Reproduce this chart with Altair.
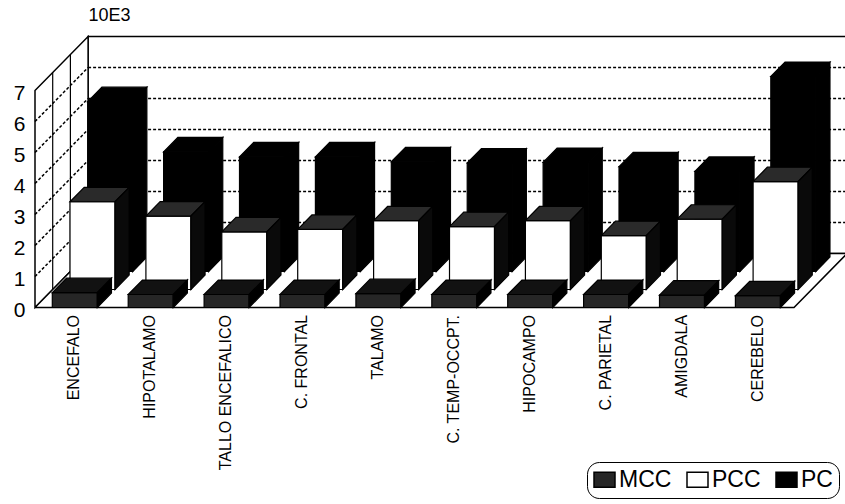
import altair as alt
import pandas as pd

# ---- data (values in thousands, "10E3") ----
categories = ["ENCEFALO", "HIPOTALAMO", "TALLO ENCEFALICO", "C. FRONTAL", "TALAMO",
              "C. TEMP-OCCPT.", "HIPOCAMPO", "C. PARIETAL", "AMIGDALA", "CEREBELO"]
series = ["MCC", "PCC", "PC"]
mcc_values = [0.48, 0.42, 0.42, 0.42, 0.45, 0.42, 0.42, 0.42, 0.40, 0.38]
pcc_values = [2.83, 2.37, 1.86, 1.94, 2.22, 2.03, 2.22, 1.74, 2.27, 3.48]
pc_values = [5.48, 3.86, 3.70, 3.70, 3.54, 3.50, 3.52, 3.38, 3.23, 6.29]
y_ticks = [0, 1, 2, 3, 4, 5, 6, 7]

# ---- styling ----
FONT = "Liberation Sans"
front_colors = ["#262626", "#ffffff", "#000000"]
top_colors = ["#121212", "#2a2a2a", "#000000"]
side_colors = ["#000000", "#0a0a0a", "#000000"]

# ---- oblique projection of the 3-D box ----
PX_PER_CAT = 75.9      # pixels per category slot
PX_PER_UNIT = 31.0     # pixels per 1 unit on the value axis
ZERO_PX = 307.5        # pixel row of value 0 on the front plane
ROW_DX = 17.7 / PX_PER_CAT   # one depth row, in category units
ROW_DY = 18.0 / PX_PER_UNIT  # one depth row, in value units
N_ROWS = len(series)
BAR_X0 = 0.228
BAR_W = 0.593
BAR_DEPTH = 0.8
WALL_TOP = y_ticks[-1]
PLOT_W, PLOT_H, PAD_L = 810, 504, 35
N_CAT = len(categories)

XMAX = PLOT_W / PX_PER_CAT
XS = alt.Scale(domain=[0, XMAX], nice=False, zero=False)
YS = alt.Scale(domain=[(ZERO_PX - PLOT_H) / PX_PER_UNIT, ZERO_PX / PX_PER_UNIT],
               nice=False, zero=False)

Y_AXIS = alt.Axis(values=y_ticks, ticks=False, domain=False, grid=False,
                  labelFontSize=21, labelFont=FONT, labelColor="black", labelPadding=10,
                  labelOffset=3,
                  title="10E3", titleAngle=0, titleX=53, titleY=15, titleAlign="left",
                  titleBaseline="middle", titleFontSize=18, titleFont=FONT,
                  titleFontWeight="normal", titleColor="black")


def X(field="x"):
    return alt.X(f"{field}:Q", scale=XS, axis=None, stack=None)


def Y(field="y"):
    return alt.Y(f"{field}:Q", scale=YS, axis=Y_AXIS, stack=None)


# wide rectangular swatch, in the unit box [-1, 1]
SWATCH = "M-1,-0.72L1,-0.72L1,0.72L-1,0.72Z"
LEGEND = alt.Legend(orient="none", legendX=552, legendY=462, direction="horizontal",
                    title=None, symbolType=SWATCH, symbolSize=441,
                    symbolStrokeColor="black", symbolStrokeWidth=1.5,
                    labelFontSize=23, labelFont=FONT, labelColor="black",
                    columnPadding=12, labelOffset=3, padding=6, cornerRadius=12,
                    strokeColor="black", fillColor="white")

# ---- bar faces ----
values_by_series = [mcc_values, pcc_values, pc_values]
front_rows, top_rows, side_rows = [], [], []
ddx, ddy = BAR_DEPTH * ROW_DX, BAR_DEPTH * ROW_DY
for r, (name, vals) in enumerate(zip(series, values_by_series)):
    for i, v in enumerate(vals):
        xl = i + BAR_X0 + r * ROW_DX
        xr = xl + BAR_W
        base = r * ROW_DY
        key = f"{name}-{i}"
        front_rows.append(dict(key=key, series=name, row=r, x=xl, x2=xr, y=base, y2=base + v))
        top_rows.append(dict(key=key, row=r, y=base + v, x=xl, x2=xr))
        top_rows.append(dict(key=key, row=r, y=base + v + ddy, x=xl + ddx, x2=xr + ddx))
        side_rows.append(dict(key=key, row=r, x=xr, y=base, y2=base + v))
        side_rows.append(dict(key=key, row=r, x=xr + ddx, y=base + ddy, y2=base + v + ddy))
front_df = pd.DataFrame(front_rows)
top_df = pd.DataFrame(top_rows)
side_df = pd.DataFrame(side_rows)

# ---- walls and floor ----
back_x, back_y = N_ROWS * ROW_DX, N_ROWS * ROW_DY
back_wall = pd.DataFrame([dict(x=back_x, x2=XMAX + 0.3, y=back_y, y2=back_y + WALL_TOP)])
back_grid = pd.DataFrame([dict(x=back_x, x2=XMAX + 0.3, y=back_y + v) for v in y_ticks[1:-1]])
side_wall = pd.DataFrame([dict(k="w", x=0, y=0, y2=WALL_TOP),
                          dict(k="w", x=back_x, y=back_y, y2=back_y + WALL_TOP)])
side_grid = pd.DataFrame([dict(v=v, x=0, y=v) for v in y_ticks[1:-1]] +
                         [dict(v=v, x=back_x, y=back_y + v) for v in y_ticks[1:-1]])
side_rules = pd.DataFrame([dict(x=k * ROW_DX, y=k * ROW_DY, y2=k * ROW_DY + WALL_TOP)
                           for k in range(1, N_ROWS)])
floor = pd.DataFrame([dict(k="f", y=0, x=0, x2=N_CAT),
                      dict(k="f", y=back_y, x=back_x, x2=N_CAT + back_x)])
labels = pd.DataFrame([dict(cat=c, x=i + 0.52, y=-0.24) for i, c in enumerate(categories)])

layers = [
    alt.Chart(back_wall).mark_rect(fill="white", stroke="black", strokeWidth=1.5, clip=True)
    .encode(x=X(), x2="x2:Q", y=Y(), y2="y2:Q"),
    alt.Chart(back_grid).mark_rule(color="black", strokeWidth=1.5, strokeDash=[3, 2], clip=True)
    .encode(x=X(), x2="x2:Q", y=Y()),
    alt.Chart(side_wall).mark_area(orient="vertical", fill="white", stroke="black", strokeWidth=1.5)
    .encode(x=X(), y=Y(), y2="y2:Q", detail="k:N"),
    alt.Chart(side_grid).mark_line(color="black", strokeWidth=1.5, strokeDash=[3, 2])
    .encode(x=X(), y=Y(), detail="v:N"),
    alt.Chart(side_rules).mark_rule(color="black", strokeWidth=1.2)
    .encode(x=X(), y=Y(), y2="y2:Q"),
    alt.Chart(floor).mark_area(orient="horizontal", fill="white", stroke="black", strokeWidth=1.5,
                               clip=True)
    .encode(y=Y(), x=X(), x2="x2:Q", detail="k:N"),
]

color = alt.Color("series:N", scale=alt.Scale(domain=series, range=front_colors), legend=LEGEND)
for r in reversed(range(N_ROWS)):
    layers.append(
        alt.Chart(front_df[front_df.row == r]).mark_rect(stroke="black", strokeWidth=1.2)
        .encode(x=X(), x2="x2:Q", y=Y(), y2="y2:Q", color=color))
    layers.append(
        alt.Chart(top_df[top_df.row == r])
        .mark_area(orient="horizontal", fill=top_colors[r], stroke="black", strokeWidth=1.2)
        .encode(y=Y(), x=X(), x2="x2:Q", detail="key:N"))
    layers.append(
        alt.Chart(side_df[side_df.row == r])
        .mark_area(orient="vertical", fill=side_colors[r], stroke="black", strokeWidth=1.2)
        .encode(x=X(), y=Y(), y2="y2:Q", detail="key:N"))

layers.append(
    alt.Chart(labels).mark_text(angle=270, align="right", baseline="middle", fontSize=16,
                                font=FONT, color="black")
    .encode(x=X(), y=Y(), text="cat:N"))

chart = (
    alt.layer(*layers)
    .properties(width=PLOT_W, height=PLOT_H, background="white",
                padding={"left": PAD_L, "top": 0, "right": 0, "bottom": 0},
                autosize=alt.AutoSizeParams(type="none"))
    .configure_view(stroke=None)
)

chart.save("out.html", embed_options={"renderer": "svg", "actions": False})
